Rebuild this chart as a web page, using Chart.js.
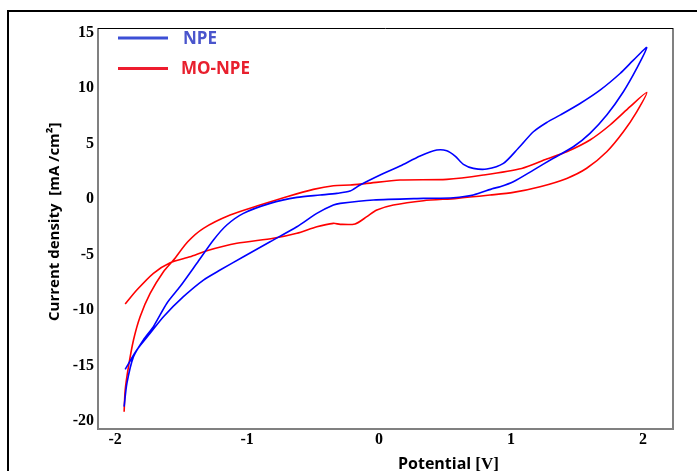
<!DOCTYPE html>
<html>
<head>
<meta charset="utf-8">
<script src="https://cdn.jsdelivr.net/npm/chart.js@4.4.1/dist/chart.umd.min.js"></script>
<style>
  html, body { margin: 0; padding: 0; background: #fff; }
</style>
</head>
<body>
<canvas id="cvChart" width="697" height="471"></canvas>
<script>
// NPE loop: forward sweep from the bottom-left corner up to 2 V, then back
let npePotential = [-1.932, -1.911, -1.861, -1.786, -1.710, -1.608, -1.508, -1.381, -1.255, -1.154,
  -1.028, -0.826, -0.623, -0.447, -0.320, -0.220, -0.144, 0.008, 0.159, 0.311,
  0.437, 0.513, 0.576, 0.639, 0.714, 0.816, 0.942, 1.053, 1.169, 1.270, 1.371, 1.523,
  1.674, 1.826, 1.927, 2.028,
  1.952, 1.851, 1.725, 1.598, 1.472, 1.320, 1.169, 1.017, 0.917, 0.866,
  0.714, 0.563, 0.336, -0.043, -0.295, -0.346, -0.472, -0.623, -0.826, -1.028,
  -1.205, -1.331, -1.483, -1.634, -1.735, -1.836, -1.924];
let npeCurrent = [-18.70, -16.60, -14.20, -12.69, -11.49, -9.39, -7.89, -5.79, -3.69, -2.34,
  -1.29, -0.39, 0.15, 0.36, 0.51, 0.72, 1.26, 2.16, 2.97, 3.87,
  4.41, 4.35, 3.87, 3.12, 2.76, 2.70, 3.21, 4.55, 6.06, 6.90, 7.56, 8.61,
  9.81, 11.31, 12.51, 13.65,
  11.77, 9.67, 7.57, 5.92, 4.71, 3.67, 2.61, 1.56, 1.11, 0.96,
  0.36, 0.12, 0.06, -0.09, -0.39, -0.54, -1.29, -2.50, -3.85, -5.20,
  -6.40, -7.30, -8.80, -10.60, -12.10, -13.60, -15.34];

// MO-NPE loop
let monpePotential = [-1.932, -1.924, -1.899, -1.861, -1.811, -1.735, -1.634, -1.558, -1.450, -1.331,
  -1.129, -0.902, -0.699, -0.498, -0.346, -0.220, -0.093, 0.159, 0.513, 0.790,
  1.080, 1.270, 1.422, 1.598, 1.750, 1.902, 2.028,
  1.952, 1.851, 1.725, 1.573, 1.422, 1.220, 1.017, 0.841, 0.589, 0.336,
  0.108, -0.017, -0.093, -0.182, -0.295, -0.346, -0.472, -0.623, -0.801, -1.078,
  -1.305, -1.432, -1.583, -1.710, -1.836, -1.924];
let monpeCurrent = [-19.16, -17.21, -15.11, -12.70, -10.60, -8.50, -6.55, -5.50, -3.85, -2.64,
  -1.44, -0.54, 0.21, 0.87, 1.20, 1.26, 1.41, 1.71, 1.77, 2.16,
  2.75, 3.60, 4.26, 5.32, 6.67, 8.32, 9.61,
  7.86, 6.06, 4.26, 2.77, 1.86, 1.11, 0.60, 0.36, 0.06, -0.15,
  -0.54, -0.99, -1.59, -2.25, -2.28, -2.19, -2.50, -3.09, -3.54, -3.99,
  -4.66, -5.20, -5.74, -6.69, -8.20, -9.46];

let seriesLabels = ['NPE', 'MO-NPE'];
let lineColors = ['#0000ff', '#ff0000'];
let legendLineColors = ['#3c4fd6', '#ee1c2e'];
let legendTextColors = ['#4a55cc', '#e8202e'];
let xTicks = [-2, -1, 0, 1, 2];
let yTicks = [-20, -15, -10, -5, 0, 5, 10, 15];

function toPoints(xs, ys) {
  return xs.map((x, i) => ({ x: x, y: ys[i] }));
}

// frame, plot box, legend and the two axis titles
const decorations = {
  id: 'decorations',
  afterDraw(chart) {
    const ctx = chart.ctx;
    const ca = chart.chartArea;
    ctx.save();

    // outer black frame (left and top edge only are visible)
    ctx.fillStyle = '#000';
    ctx.fillRect(7, 10, chart.width - 7, 2);
    ctx.fillRect(7, 10, 2, chart.height - 10);

    // plot box
    ctx.strokeStyle = '#808080';
    ctx.lineWidth = 2;
    ctx.beginPath();
    ctx.moveTo(ca.left, ca.top);
    ctx.lineTo(ca.left, ca.bottom);
    ctx.lineTo(ca.right, ca.bottom);
    ctx.lineTo(ca.right, ca.top);
    ctx.stroke();
    ctx.strokeStyle = '#000';
    ctx.lineWidth = 1;
    ctx.beginPath();
    ctx.moveTo(ca.left, ca.top + 0.5);
    ctx.lineTo(ca.right, ca.top + 0.5);
    ctx.stroke();

    // legend
    ctx.font = 'bold 17px "Open Sans"';
    ctx.textBaseline = 'middle';
    ctx.textAlign = 'left';
    chart.data.datasets.forEach((ds, i) => {
      const y = 38 + i * 30.5;
      ctx.strokeStyle = legendLineColors[i];
      ctx.lineWidth = 3;
      ctx.beginPath();
      ctx.moveTo(118, y);
      ctx.lineTo(168, y);
      ctx.stroke();
      ctx.fillStyle = legendTextColors[i];
      ctx.fillText(ds.label, i === 0 ? 183 : 181, y + 1);
    });

    // x title: sans word, serif unit
    ctx.fillStyle = '#000';
    ctx.textBaseline = 'alphabetic';
    ctx.font = 'bold 16px "Open Sans"';
    ctx.fillText('Potential', 398, 469);
    const w = ctx.measureText('Potential').width;
    ctx.font = 'bold 17px "Liberation Serif"';
    ctx.fillText('[V]', 398 + w + 4, 469);

    // y title
    ctx.translate(54.5, 321);
    ctx.rotate(-Math.PI / 2);
    ctx.font = 'bold 15px "Open Sans"';
    ctx.textBaseline = 'middle';
    ctx.fillText('Current density  [mA /cm\u00b2]', 0, 0);
    ctx.restore();
  }
};

const tickFont = { family: '"Liberation Serif", serif', size: 16, weight: 'bold' };

let ctx = document.getElementById('cvChart').getContext('2d');
let cvChart = new Chart(ctx, {
  type: 'scatter',
  data: {
    datasets: [
      {
        label: seriesLabels[0],
        data: toPoints(npePotential, npeCurrent),
        borderColor: lineColors[0],
        backgroundColor: lineColors[0],
        showLine: true,
        pointRadius: 0,
        borderWidth: 1.6,
        tension: 0.25
      },
      {
        label: seriesLabels[1],
        data: toPoints(monpePotential, monpeCurrent),
        borderColor: lineColors[1],
        backgroundColor: lineColors[1],
        showLine: true,
        pointRadius: 0,
        borderWidth: 1.6,
        tension: 0.25
      }
    ]
  },
  options: {
    responsive: false,
    animation: false,
    devicePixelRatio: 1,
    layout: { padding: { top: 28, right: 24, left: 0, bottom: 0 } },
    plugins: {
      legend: { display: false },
      tooltip: { enabled: false }
    },
    scales: {
      x: {
        type: 'linear',
        min: -2.13,
        max: 2.227,
        grid: { display: false, drawTicks: false },
        border: { display: false },
        afterBuildTicks: (s) => { s.ticks = xTicks.map(v => ({ value: v })); },
        afterFit: (s) => { s.height = 42; },
        ticks: { font: tickFont, color: '#000', padding: 1 }
      },
      y: {
        type: 'linear',
        min: -20.72,
        max: 15.41,
        grid: { display: false, drawTicks: false },
        border: { display: false },
        afterBuildTicks: (s) => { s.ticks = yTicks.map(v => ({ value: v })); },
        afterFit: (s) => { s.width = 98; },
        ticks: { font: tickFont, color: '#000', padding: 4 }
      }
    }
  },
  plugins: [decorations]
});
</script>
</body>
</html>
